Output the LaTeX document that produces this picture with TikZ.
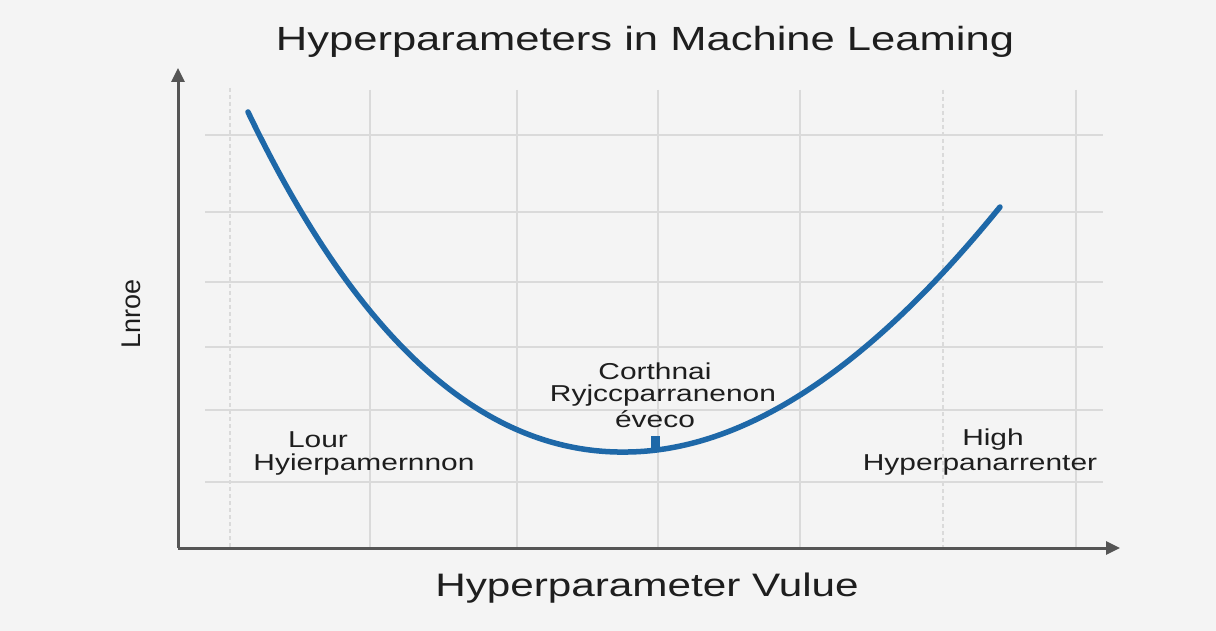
\documentclass[tikz,border=0pt]{standalone}
\usepackage{fontspec}
\setmainfont{Liberation Sans}
\usetikzlibrary{arrows.meta}
\definecolor{bgc}{HTML}{F4F4F4}
\definecolor{gridc}{HTML}{DADADA}
\definecolor{axisc}{HTML}{555555}
\definecolor{curvec}{HTML}{1E68A8}
\definecolor{txtc}{HTML}{1E1E1E}
\tikzset{
  gridline/.style={draw=gridc, line width=1.1pt},
  gridlinedash/.style={draw=gridc, line width=1.1pt, dash pattern=on 4pt off 3pt},
  axisline/.style={draw=axisc, line width=3pt, -{Triangle[length=14pt,width=13pt]}},
  curveline/.style={draw=curvec, line width=5.5pt, line cap=round},
  lbl/.style={text=txtc, inner sep=0pt, align=center, font=\fontsize{23}{26}\selectfont},
}
\newcommand{\hs}[1]{\scalebox{1.3}[1]{#1}}
\begin{document}
\begin{tikzpicture}[x=1pt,y=-1pt]
\fill[bgc] (0,0) rectangle (1216,631);
\useasboundingbox (0,0) rectangle (1216,631);
% grid
\foreach \yy in {135,212,282,347,410,482}{\draw[gridline] (205,\yy) -- (1103,\yy);}
\draw[gridlinedash] (230,88) -- (230,548);
\foreach \xx in {370,517,658,800,1076}{\draw[gridline] (\xx,90) -- (\xx,548);}
\draw[gridlinedash] (943,90) -- (943,548);
% axes
\coordinate (o) at (178,548);
\coordinate (ytip) at (178,68);
\coordinate (xtip) at (1120,548);
\draw[axisline] (o) -- (ytip);
\draw[axisline] (o) -- (xtip);
% curve
\coordinate (cstart) at (248,112);
\coordinate (cmin) at (628,452);
\coordinate (cend) at (1000,207);
\draw[curveline] (cstart) .. controls (355,335) and (480,455) .. (cmin)
  .. controls (770,450) and (900,330) .. (cend);
\fill[curvec] (651,436) rectangle (660,451);
% texts
\node[lbl, font=\fontsize{33.5}{36}\selectfont] (title) at (645,42) {\hs{Hyperparameters in Machine Leaming}};
\node[lbl, font=\fontsize{32.5}{36}\selectfont] (xlab) at (647,588) {\hs{Hyperparameter Vulue}};
\node[lbl, rotate=90, font=\fontsize{27}{30}\selectfont] (ylab) at (131,314) {Lnroe};
\node[lbl] (opt1) at (655,371) {\hs{Corthnai}};
\node[lbl] (opt2) at (663,396) {\hs{Ryjccparranenon}};
\node[lbl] (opt3) at (655,419) {\hs{éveco}};
\node[lbl] (low1) at (318,440) {\hs{Lour}};
\node[lbl] (low2) at (364,465) {\hs{Hyierpamernnon}};
\node[lbl] (high1) at (993,440) {\hs{High}};
\node[lbl] (high2) at (980,465) {\hs{Hyperpanarrenter}};
\end{tikzpicture}
\end{document}
